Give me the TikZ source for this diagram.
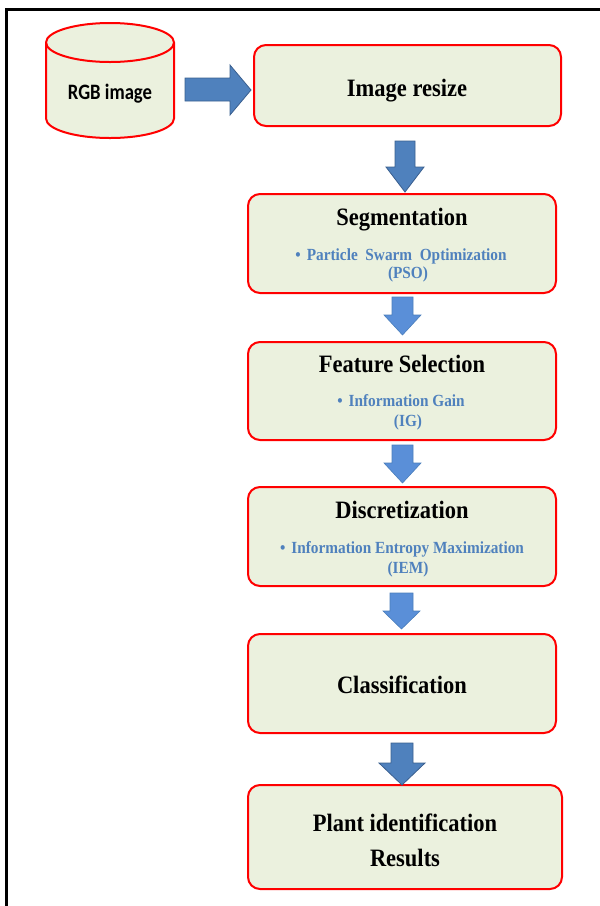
\documentclass[tikz,border=0pt]{standalone}
\usepackage{fontspec}
\setmainfont{Liberation Serif}
\newfontfamily\tfont[FakeStretch=0.9]{Liberation Serif}
\newfontfamily\cfont[FakeStretch=0.85]{Carlito}
\definecolor{boxfill}{HTML}{EBF1DE}
\definecolor{boxred}{HTML}{FF0000}
\definecolor{subblue}{HTML}{4F81BD}
\definecolor{darkarrow}{HTML}{4F81BD}
\definecolor{darkarrowline}{HTML}{3A5F8F}
\definecolor{lightarrow}{HTML}{5A8FD8}
\definecolor{lightarrowline}{HTML}{4A7EBB}
\tikzset{
  procbox/.style={draw=boxred, fill=boxfill, line width=2pt, rounded corners=12pt, inner sep=0pt},
  titletext/.style={anchor=base, inner sep=0pt, font=\tfont\bfseries\fontsize{25}{30}\selectfont},
  subtext/.style={anchor=base, inner sep=0pt, text=subblue, font=\tfont\bfseries\fontsize{17}{20}\selectfont},
  darkblk/.style={fill=darkarrow, draw=darkarrowline, line width=0.8pt, line join=miter},
  lightblk/.style={fill=lightarrow, draw=lightarrowline, line width=0.6pt, line join=miter},
}
\newcommand{\blt}{{\fontsize{17}{17}\selectfont\textbullet}\hspace{6pt}}
\begin{document}
\begin{tikzpicture}[x=1pt,y=-1pt]
\useasboundingbox (0,0) rectangle (600,906);
% frame
\draw[line width=3pt] (600,9.5) -- (6.5,9.5) -- (6.5,906);
% cylinder
\draw[boxred, line width=2pt, fill=boxfill]
  (46,42.5) -- (46,118.5)
  arc[start angle=180, end angle=360, x radius=64pt, y radius=19.5pt]
  -- (174,42.5)
  arc[start angle=0, end angle=180, x radius=64pt, y radius=19.5pt] -- cycle;
\draw[boxred, line width=2pt] (46,42.5)
  arc[start angle=180, end angle=360, x radius=64pt, y radius=19.5pt];
\node[anchor=base, inner sep=0pt, font=\cfont\bfseries\fontsize{22}{26}\selectfont] (rgb) at (110,99) {RGB image};
% boxes
\node[procbox, minimum width=307pt, minimum height=81pt] (resize) at (407.5,85.5) {};
\node[procbox, minimum width=308pt, minimum height=99pt] (seg) at (402,243.5) {};
\node[procbox, minimum width=308pt, minimum height=98pt] (fs) at (402,391) {};
\node[procbox, minimum width=308pt, minimum height=99pt] (disc) at (402,536.5) {};
\node[procbox, minimum width=308pt, minimum height=99pt] (cls) at (402,683.5) {};
\node[procbox, minimum width=314pt, minimum height=104pt] (plant) at (405,837) {};
% texts
\node[titletext] (t1) at (407,96) {Image resize};
\node[titletext] (t2) at (402,225) {Segmentation};
\node[subtext] (s2a) at (401,260) {\blt Particle\ \ Swarm\ \ Optimization};
\node[subtext] (s2b) at (408,278.5) {(PSO)};
\node[titletext] (t3) at (402,372) {Feature Selection};
\node[subtext] (s3a) at (401,406) {\blt Information Gain};
\node[subtext] (s3b) at (408,426) {(IG)};
\node[titletext] (t4) at (402,518) {Discretization};
\node[subtext] (s4a) at (402,553) {\blt Information Entropy Maximization};
\node[subtext] (s4b) at (408,573.5) {(IEM)};
\node[titletext] (t5) at (402,693) {Classification};
\node[titletext] (t6) at (405,831) {Plant identification};
\node[titletext] (t7) at (405,866) {Results};
% block arrows
\draw[darkblk] (185,78) -- (230,78) -- (230,65) -- (251,90) -- (230,115) -- (230,101) -- (185,101) -- cycle;
\draw[darkblk] (395,141) -- (415,141) -- (415,167) -- (424,167) -- (405,192) -- (386,167) -- (395,167) -- cycle;
\draw[lightblk] (392,297) -- (413,297) -- (413,315) -- (421,315) -- (402.5,335) -- (384,315) -- (392,315) -- cycle;
\draw[lightblk] (392,445) -- (413,445) -- (413,463) -- (421,463) -- (402.5,483) -- (384,463) -- (392,463) -- cycle;
\draw[lightblk] (390,593) -- (413,593) -- (413,611) -- (420,611) -- (401.5,629) -- (383,611) -- (390,611) -- cycle;
\draw[darkblk] (391,743) -- (413,743) -- (413,763) -- (425,763) -- (402,785) -- (379,763) -- (391,763) -- cycle;
\end{tikzpicture}
\end{document}
